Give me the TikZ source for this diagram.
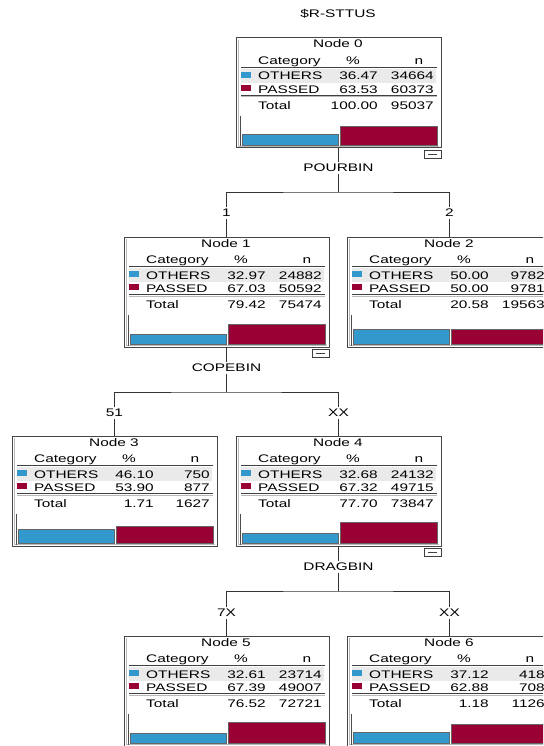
\documentclass[tikz,border=0pt]{standalone}
\usepackage{fontspec}
\setmainfont{Liberation Sans}[FakeStretch=1.4]
\definecolor{spblue}{RGB}{51,153,204}
\definecolor{spred}{RGB}{153,0,51}
\definecolor{spband}{RGB}{234,234,234}
\definecolor{spframe}{RGB}{70,70,70}
\definecolor{spinner}{RGB}{185,185,185}
\tikzset{
  spbox/.style={draw=spframe, line width=1pt, minimum width=205pt, minimum height=110pt, inner sep=0pt, outer sep=0pt, anchor=north west},
  sptxt/.style={inner sep=0pt, font=\fontsize{11}{12}\selectfont, text=black},
  splab/.style={sptxt, fill=white, inner ysep=2pt, inner xsep=1pt},
  spline/.style={draw=black!80, line width=1pt},
  sprule/.style={draw=black!75, line width=0.7pt},
  spbar/.style={draw=black!60, line width=0.7pt},
}
\newcommand\sptotal[2]{%
  \node[sptxt, anchor=base west] at (22,71.3) {Total};
  \node[sptxt, anchor=base east] at (142,71.3) {#1};
  \node[sptxt, anchor=base east] at (198,71.3) {#2};
}
% #1 name, #2 L, #3 T, #4 title, #5 p1, #6 n1, #7 p2, #8 n2, #9 {tp}{tn}
\newcommand\spnode[9]{%
  \begin{scope}[shift={(#2,#3)}]
    \fill[spband] (5,31) rectangle (200,45);
    \node[spbox] (#1) at (0,0) {};
    \draw[spinner, line width=0.6pt] (2,2) -- (2,108) -- (203,108);
    \node[sptxt, anchor=base] at (102,10) {#4};
    \node[sptxt, anchor=base west] at (22,26.5) {Category};
    \node[sptxt, anchor=base] at (117,26.5) {\%};
    \node[sptxt, anchor=base] at (183,26.5) {n};
    \draw[sprule] (5,29) -- (201,29);
    \fill[spblue] (5,34) rectangle (15,40);
    \node[sptxt, anchor=base west] at (22,42) {OTHERS};
    \node[sptxt, anchor=base east] at (142,42) {#5};
    \node[sptxt, anchor=base east] at (198,42) {#6};
    \fill[spred] (5,47) rectangle (15,53);
    \node[sptxt, anchor=base west] at (22,55.3) {PASSED};
    \node[sptxt, anchor=base east] at (142,55.3) {#7};
    \node[sptxt, anchor=base east] at (198,55.3) {#8};
    \draw[sprule] (5,57.3) -- (201,57.3);
    \draw[spinner, line width=0.6pt] (5,58.8) -- (201,58.8);
    \sptotal#9
    \draw[draw=black!70, line width=0.8pt] (4.5,78) -- (4.5,108.5);
    \draw[spbar, fill=spblue] (6.7,107) rectangle ({102.7},{107-0.3*#5});
    \draw[spbar, fill=spred] (104.3,107) rectangle ({201},{107-0.3*#7});
    \draw[draw=spinner, line width=0.6pt] (4.5,108.3) -- (201.5,108.3);
  \end{scope}%
}
\newcommand\spminus[1]{%
  \draw[draw=black!75, line width=0.7pt, fill=white] ([xshift=-17pt,yshift=-2pt]#1.south east) rectangle ([yshift=-10pt]#1.south east);
  \draw[draw=black!75, line width=0.7pt] ([xshift=-13pt,yshift=-6pt]#1.south east) -- ([xshift=-4pt,yshift=-6pt]#1.south east);
}
\begin{document}
\begin{tikzpicture}[x=1pt,y=-1pt]
  \useasboundingbox (0,0) rectangle (543,746);
  \clip (0,0) rectangle (543,746);
  \fill[white] (0,0) rectangle (543,746);

  \node[sptxt] (title) at (338,14) {\$R-STTUS};

  \coordinate (j0) at (338.5,192);
  \coordinate (j1) at (226.5,392);
  \coordinate (j2) at (338.5,591);

  \spnode{n0}{236}{38}{Node 0}{36.47}{34664}{63.53}{60373}{{100.00}{95037}}
  \spnode{n1}{124}{237}{Node 1}{32.97}{24882}{67.03}{50592}{{79.42}{75474}}
  \spnode{n2}{347}{237}{Node 2}{50.00}{9782}{50.00}{9781}{{20.58}{19563}}
  \spnode{n3}{12}{436}{Node 3}{46.10}{750}{53.90}{877}{{1.71}{1627}}
  \spnode{n4}{236}{436}{Node 4}{32.68}{24132}{67.32}{49715}{{77.70}{73847}}
  \spnode{n5}{124}{636}{Node 5}{32.61}{23714}{67.39}{49007}{{76.52}{72721}}
  \spnode{n6}{347}{636}{Node 6}{37.12}{418}{62.88}{708}{{1.18}{1126}}

  \spminus{n0}
  \spminus{n1}
  \spminus{n4}

  \draw[spline] (n0.south) -- (j0);
  \draw[spline] (n1.north) |- (j0) -| (n2.north);
  \draw[spline] (n1.south) -- (j1);
  \draw[spline] (n3.north) |- (j1) -| (n4.north);
  \draw[spline] (n4.south) -- (j2);
  \draw[spline] (n5.north) |- (j2) -| (n6.north);

  \node[splab] (s0) at (338.5,168) {POURBIN};
  \node[splab] (e1) at (226.5,213) {1};
  \node[splab] (e2) at (449.5,213) {2};
  \node[splab] (s1) at (226.5,368) {COPEBIN};
  \node[splab] (e3) at (114.5,413) {51};
  \node[splab] (e4) at (338.5,413) {XX};
  \node[splab] (s2) at (338.5,567) {DRAGBIN};
  \node[splab] (e5) at (226.5,613) {7X};
  \node[splab] (e6) at (449.5,613) {XX};
\end{tikzpicture}
\end{document}
